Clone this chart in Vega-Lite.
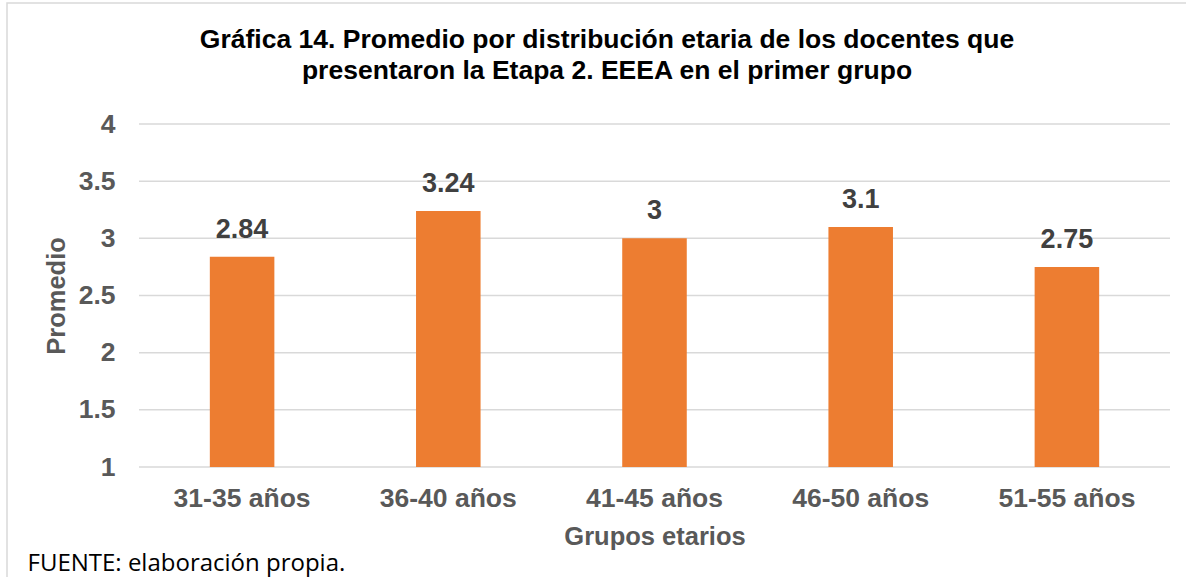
{
  "$schema": "https://vega.github.io/schema/vega-lite/v6.json",
  "width": 1200,
  "height": 590,
  "autosize": {"type": "none"},
  "padding": {"left": 7, "top": 3, "right": 0, "bottom": 0},
  "background": "white",
  "config": {
    "font": "Liberation Sans",
    "view": {"stroke": "#d9d9d9", "strokeWidth": 1.5}
  },
  "title": {
    "text": ["Gráfica 14. Promedio por distribución etaria de los docentes que", "presentaron la Etapa 2. EEEA en el primer grupo"],
    "font": "Liberation Sans",
    "fontSize": 26.5,
    "fontWeight": "bold",
    "color": "#000000",
    "anchor": "middle",
    "frame": "group",
    "baseline": "alphabetic",
    "lineHeight": 30.5,
    "offset": -102
  },
  "datasets": {
    "bars": [
      {"grupo": "31-35 años", "promedio": 2.84},
      {"grupo": "36-40 años", "promedio": 3.24},
      {"grupo": "41-45 años", "promedio": 3},
      {"grupo": "46-50 años", "promedio": 3.1},
      {"grupo": "51-55 años", "promedio": 2.75}
    ],
    "grid": [
      {"v": 1}, {"v": 1.5}, {"v": 2}, {"v": 2.5}, {"v": 3}, {"v": 3.5}, {"v": 4}
    ]
  },
  "resolve": {"scale": {"x": "independent"}, "axis": {"x": "independent"}},
  "layer": [
    {
      "data": {"name": "grid"},
      "mark": {"type": "rule", "color": "#d9d9d9", "strokeWidth": 1.5},
      "encoding": {
        "x": {
          "datum": 0,
          "type": "quantitative",
          "scale": {"domain": [0, 1], "range": [132, 1163], "nice": false, "zero": false},
          "axis": {
            "orient": "bottom",
            "labels": false,
            "ticks": false,
            "domain": false,
            "grid": false,
            "title": "FUENTE: elaboración propia.",
            "titleX": 20,
            "titleY": -23,
            "titleAlign": "left",
            "titleAnchor": null,
            "titleBaseline": "alphabetic",
            "titleFont": "Open Sans",
            "titleFontWeight": "normal",
            "titleFontSize": 24,
            "titleColor": "#000000"
          }
        },
        "x2": {"datum": 1},
        "y": {
          "field": "v",
          "type": "quantitative",
          "scale": {"domain": [1, 4], "range": [464, 121], "nice": false, "zero": false},
          "axis": {
            "title": "Promedio",
            "values": [1, 1.5, 2, 2.5, 3, 3.5, 4],
            "format": "~g",
            "grid": false,
            "domain": false,
            "ticks": false,
            "offset": -108,
            "labelPadding": 0,
            "labelAlign": "right",
            "labelBaseline": "middle",
            "labelFontSize": 26.5,
            "labelFontWeight": "bold",
            "labelColor": "#595959",
            "titleFontSize": 25.5,
            "titleFontWeight": "bold",
            "titleColor": "#595959",
            "titleAngle": -90,
            "titleX": -59,
            "titleY": 292.5,
            "titleAlign": "center",
            "titleBaseline": "middle",
            "titleAnchor": null
          }
        }
      }
    },
    {
      "data": {"name": "bars"},
      "mark": {"type": "bar", "color": "#ED7D31"},
      "encoding": {
        "x": {
          "field": "grupo",
          "type": "nominal",
          "sort": null,
          "scale": {"range": [132, 1163], "paddingInner": 0.687, "paddingOuter": 0.3435},
          "axis": {
            "orient": "bottom",
            "offset": -126,
            "labelAngle": 0,
            "ticks": false,
            "domain": false,
            "grid": false,
            "labelPadding": 18,
            "labelFontSize": 26.5,
            "labelFontWeight": "bold",
            "labelColor": "#595959",
            "title": "Grupos etarios",
            "titleFontSize": 25.5,
            "titleFontWeight": "bold",
            "titleColor": "#595959",
            "titleBaseline": "alphabetic",
            "titleY": 77
          }
        },
        "y": {
          "field": "promedio",
          "type": "quantitative",
          "axis": {
            "title": "Promedio",
            "values": [1, 1.5, 2, 2.5, 3, 3.5, 4],
            "format": "~g",
            "grid": false,
            "domain": false,
            "ticks": false,
            "offset": -108,
            "labelPadding": 0,
            "labelAlign": "right",
            "labelBaseline": "middle",
            "labelFontSize": 26.5,
            "labelFontWeight": "bold",
            "labelColor": "#595959",
            "titleFontSize": 25.5,
            "titleFontWeight": "bold",
            "titleColor": "#595959",
            "titleAngle": -90,
            "titleX": -59,
            "titleY": 292.5,
            "titleAlign": "center",
            "titleBaseline": "middle",
            "titleAnchor": null
          }
        },
        "y2": {"datum": 1}
      }
    },
    {
      "data": {"name": "bars"},
      "mark": {"type": "text", "fontSize": 27, "fontWeight": "bold", "color": "#404040", "baseline": "alphabetic", "dy": -19},
      "encoding": {
        "x": {
          "field": "grupo",
          "type": "nominal",
          "sort": null,
          "scale": {"range": [132, 1163], "paddingInner": 0.687, "paddingOuter": 0.3435},
          "axis": null
        },
        "y": {"field": "promedio", "type": "quantitative"},
        "text": {"field": "promedio", "type": "quantitative", "format": "~g"}
      }
    }
  ]
}
